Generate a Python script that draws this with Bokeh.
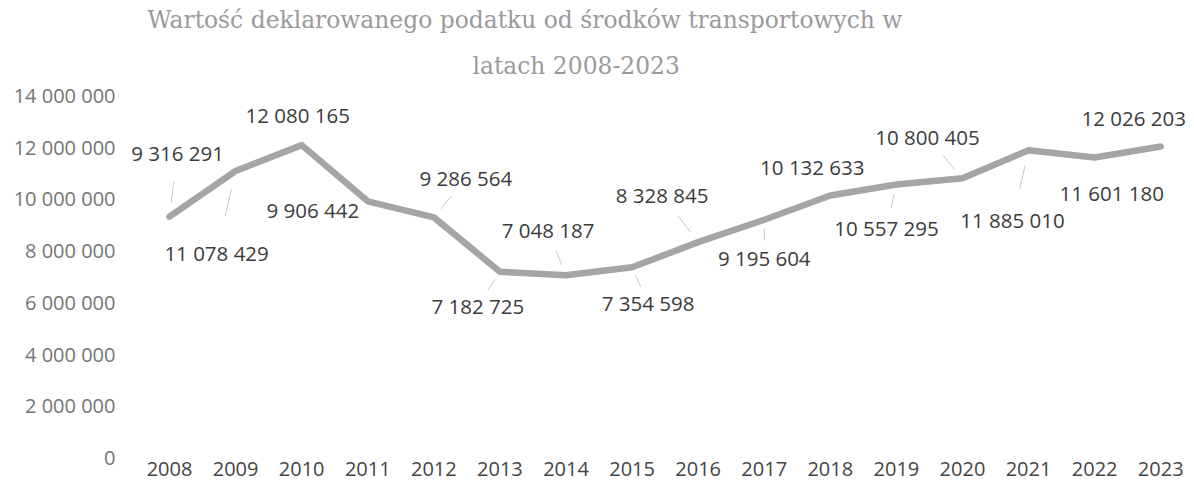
from bokeh.plotting import figure
from bokeh.models import Range1d, FixedTicker, Title, ColumnDataSource
from bokeh.core.properties import value
from bokeh.embed import file_html
from bokeh.resources import INLINE

years = [2008, 2009, 2010, 2011, 2012, 2013, 2014, 2015, 2016, 2017, 2018, 2019, 2020, 2021, 2022, 2023]
tax = [9316291, 11078429, 12080165, 9906442, 9286564, 7182725, 7048187, 7354598,
       8328845, 9195604, 10132633, 10557295, 10800405, 11885010, 11601180, 12026203]
y_ticks = [0, 2000000, 4000000, 6000000, 8000000, 10000000, 12000000, 14000000]
y_tick_labels = ["0", "2 000 000", "4 000 000", "6 000 000", "8 000 000", "10 000 000", "12 000 000", "14 000 000"]
title_line1 = "Wartość deklarowanego podatku od środków transportowych w"
title_line2 = "latach 2008-2023"

# label placement (pixels, relative to point; +y is down)
label_dx = [8, -19, -4, -55, 32, -22, -18, 16, -36, 0, -18, -10, -35, -16, 17, -27]
label_dy = [-64, 82, -30, 9, -39, 34, -45, 36, -47, 38, -28, 43, -41, 70, 35, -29]
leader = [True, True, False, False, True, True, True, True, True, True, False, True, True, True, False, False]

W, H = 1186, 489
left_b, right_b, top_b, bot_b = 118, 0, 95, 32
x0, x1 = 2008 - 51 / 66.07, 2023.39
y0, y1 = 0, 14000000

p = figure(width=W, height=H, output_backend="svg", toolbar_location=None,
           x_range=Range1d(x0, x1), y_range=Range1d(y0, y1),
           min_border_left=left_b, min_border_right=right_b,
           min_border_top=top_b, min_border_bottom=bot_b)
p.outline_line_color = None
p.grid.visible = False
p.background_fill_color = "white"
p.border_fill_color = "white"

for ax in (p.xaxis[0], p.yaxis[0]):
    ax.axis_line_color = None
    ax.major_tick_line_color = None
    ax.minor_tick_line_color = None
    ax.major_tick_out = 0
    ax.major_tick_in = 0
    ax.minor_tick_out = 0
    ax.minor_tick_in = 0
    ax.major_label_text_font = "Open Sans"
    ax.major_label_text_font_size = "20px"

p.xaxis.ticker = FixedTicker(ticks=years)
p.xaxis.major_label_text_color = "#454545"
p.xaxis.major_label_standoff = 4
p.yaxis.ticker = FixedTicker(ticks=y_ticks)
p.yaxis.major_label_overrides = {t: s for t, s in zip(y_ticks, y_tick_labels)}
p.yaxis.major_label_text_color = "#757575"
p.yaxis.major_label_standoff = 3

p.line(years, tax, line_color="#a5a5a5", line_width=6.5, line_cap="round", line_join="round")

# leader lines (converted from pixel offsets to data units)
fw = W - left_b - right_b
fh = H - top_b - bot_b
px_x = fw / (x1 - x0)
px_y = fh / (y1 - y0)
xs0, ys0, xs1, ys1 = [], [], [], []
for yr, v, dx, dy, ld in zip(years, tax, label_dx, label_dy, leader):
    if ld:
        xs0.append(yr + 0.22 * dx / px_x)
        ys0.append(v - 0.22 * dy / px_y)
        xs1.append(yr + 0.55 * dx / px_x)
        ys1.append(v - 0.55 * dy / px_y)
p.segment(xs0, ys0, xs1, ys1, line_color="#c8c8c8", line_width=1)

labels = [f"{v:,}".replace(",", " ") for v in tax]
src = ColumnDataSource(dict(x=years, y=tax, t=labels, dx=label_dx, dy=label_dy))
p.text(x="x", y="y", text="t", x_offset="dx", y_offset="dy", source=src,
       text_font=value("Open Sans"), text_font_size="20.5px", text_color="#3c3c3c",
       text_align="center", text_baseline="middle")

p.add_layout(Title(text=title_line2, align="left", offset=354, text_font="DejaVu Serif",
                   text_font_size="23.4px", text_color="#9a9a9a", text_font_style="normal",
                   standoff=32), "above")
p.add_layout(Title(text=title_line1, align="left", offset=29, text_font="DejaVu Serif",
                   text_font_size="23.4px", text_color="#9a9a9a", text_font_style="normal",
                   standoff=0), "above")

open("out.html", "w").write(file_html(p, INLINE))
